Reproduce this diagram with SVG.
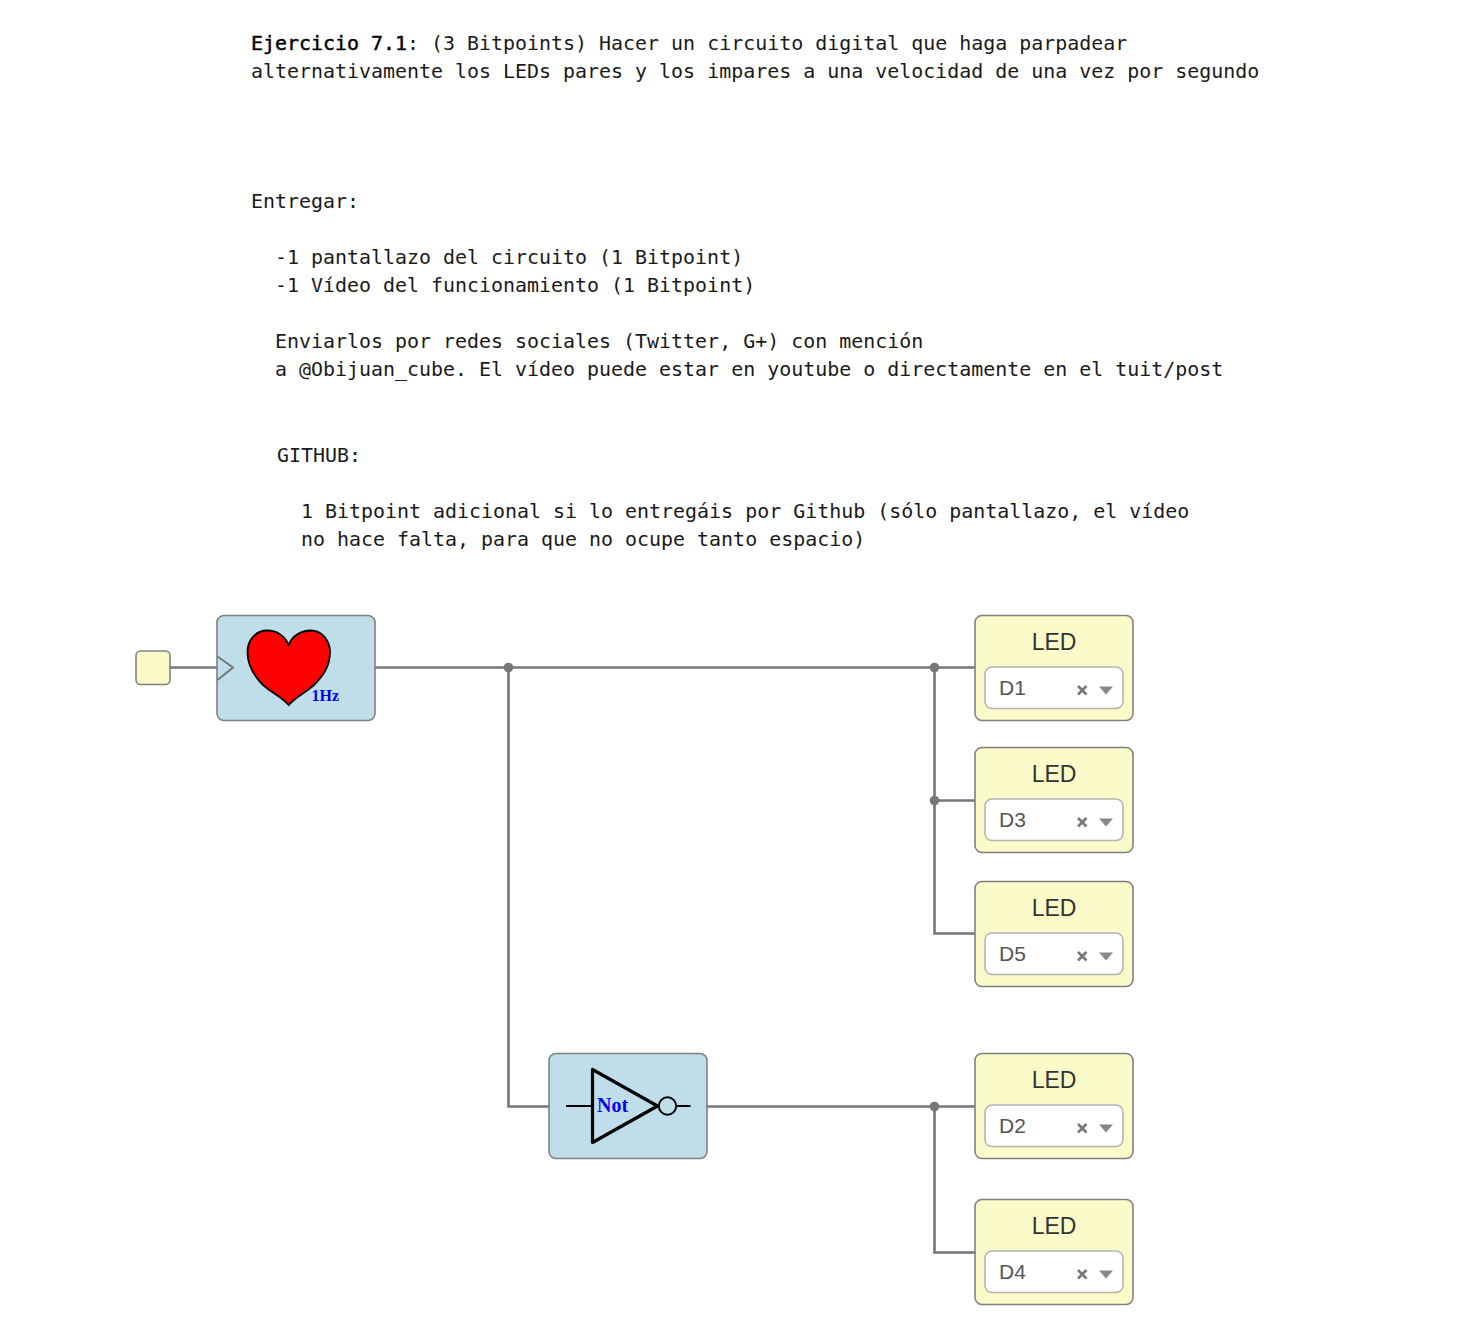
<svg xmlns="http://www.w3.org/2000/svg" width="1478" height="1332" viewBox="0 0 1478 1332">
<style>
.t{font-family:"DejaVu Sans Mono","Liberation Mono",monospace;font-size:19.95px;fill:#1a1a1a}
.wire{fill:none;stroke:#777;stroke-width:2.6}
.dot{fill:#777}
.blue{fill:#c0deea;stroke:#808080;stroke-width:1.6}
.yel{fill:#fbfac9;stroke:#808080;stroke-width:1.6}
.sel{fill:#fff;stroke:#b4b4b4;stroke-width:1.6}
.led{font-family:"Liberation Sans",Arial,sans-serif;font-size:23px;fill:#333;text-anchor:middle}
.val{font-family:"Liberation Sans",Arial,sans-serif;font-size:21px;fill:#555}
.x{fill:none;stroke:#777;stroke-width:2.6}
.tri{fill:#888}
.lbl{font-family:"Liberation Serif","Times New Roman",serif;font-weight:bold;fill:#00f}
</style>
<defs>
<g id="led">
<rect class="yel" x="0" y="0.5" width="158" height="105" rx="7"/>
<rect class="sel" x="10" y="52" width="138" height="41.500" rx="7"/>
<path class="x" d="M103 71l8.500 8.500M111.500 71l-8.500 8.500"/>
<path class="tri" d="M124 71.500h14l-7 8z"/>
</g>
</defs>
<g id="text">
<text class="t" x="251" y="50"><tspan fill="#000" stroke="#000" stroke-width="0.45">Ejercicio 7.1</tspan>: (3 Bitpoints) Hacer un circuito digital que haga parpadear</text>
<text class="t" x="251" y="78">alternativamente los LEDs pares y los impares a una velocidad de una vez por segundo</text>
<text class="t" x="251" y="208">Entregar:</text>
<text class="t" x="275" y="264">-1 pantallazo del circuito (1 Bitpoint)</text>
<text class="t" x="275" y="292">-1 Vídeo del funcionamiento (1 Bitpoint)</text>
<text class="t" x="275" y="348">Enviarlos por redes sociales (Twitter, G+) con mención</text>
<text class="t" x="275" y="376">a @Obijuan_cube. El vídeo puede estar en youtube o directamente en el tuit/post</text>
<text class="t" x="277" y="462">GITHUB:</text>
<text class="t" x="301" y="518">1 Bitpoint adicional si lo entregáis por Github (sólo pantallazo, el vídeo</text>
<text class="t" x="301" y="546">no hace falta, para que no ocupe tanto espacio)</text>
</g>
<g id="connectors">
<path class="wire" d="M170 667.500H217"/>
<path class="wire" d="M375 667.500H975"/>
<path class="wire" d="M508.500 667.500V1106.500H549"/>
<path class="wire" d="M934.500 667.500V933.500H975"/>
<path class="wire" d="M934.500 800.500H975"/>
<path class="wire" d="M707 1106.500H975"/>
<path class="wire" d="M934.500 1106.500V1252.500H975"/>
<circle class="dot" cx="508.500" cy="667.500" r="4.800"/>
<circle class="dot" cx="934.500" cy="667.500" r="4.800"/>
<circle class="dot" cx="934.500" cy="800.500" r="4.800"/>
<circle class="dot" cx="934.500" cy="1106.500" r="4.800"/>
</g>
<g id="input">
<rect class="yel" x="136" y="651" width="34" height="33.500" rx="4.500"/>
</g>
<g id="heart-block">
<rect class="blue" x="217" y="615.500" width="158" height="105" rx="7"/>
<path d="M217.500 656.500L233 667.500L217.500 680" fill="none" stroke="#777" stroke-width="2"/>
<path d="M288.700 645C285 636 277 630.500 267 630.500C255 630.500 247.500 641 247.500 652C247.500 668 256 678 263 685C272 693 282 697 288.700 705C295.500 697 305 693 314 685C321 678 330 668 330 652C330 641 322 630.500 311 630.500C301 630.500 292 636 288.700 645Z" fill="#f00" stroke="#000" stroke-width="1.800"/>
<text class="lbl" x="311.500" y="701" font-size="16">1Hz</text>
</g>
<g id="not-block">
<rect class="blue" x="549" y="1053.500" width="158" height="105" rx="7"/>
<path d="M566 1106H592.500M676 1106H690.500" fill="none" stroke="#000" stroke-width="2"/>
<path d="M592.500 1069.500V1142.500L657.500 1106Z" fill="none" stroke="#000" stroke-width="3.200" stroke-linejoin="round"/>
<circle cx="667.500" cy="1106" r="8.700" fill="none" stroke="#000" stroke-width="2"/>
<text class="lbl" x="597" y="1112" font-size="20">Not</text>
</g>
<g id="led-d1"><use href="#led" x="975" y="615"/><text class="led" x="1054" y="650">LED</text><text class="val" x="999" y="695">D1</text></g>
<g id="led-d3"><use href="#led" x="975" y="747"/><text class="led" x="1054" y="782">LED</text><text class="val" x="999" y="827">D3</text></g>
<g id="led-d5"><use href="#led" x="975" y="881"/><text class="led" x="1054" y="916">LED</text><text class="val" x="999" y="961">D5</text></g>
<g id="led-d2"><use href="#led" x="975" y="1053"/><text class="led" x="1054" y="1088">LED</text><text class="val" x="999" y="1133">D2</text></g>
<g id="led-d4"><use href="#led" x="975" y="1199"/><text class="led" x="1054" y="1234">LED</text><text class="val" x="999" y="1279">D4</text></g>
</svg>
